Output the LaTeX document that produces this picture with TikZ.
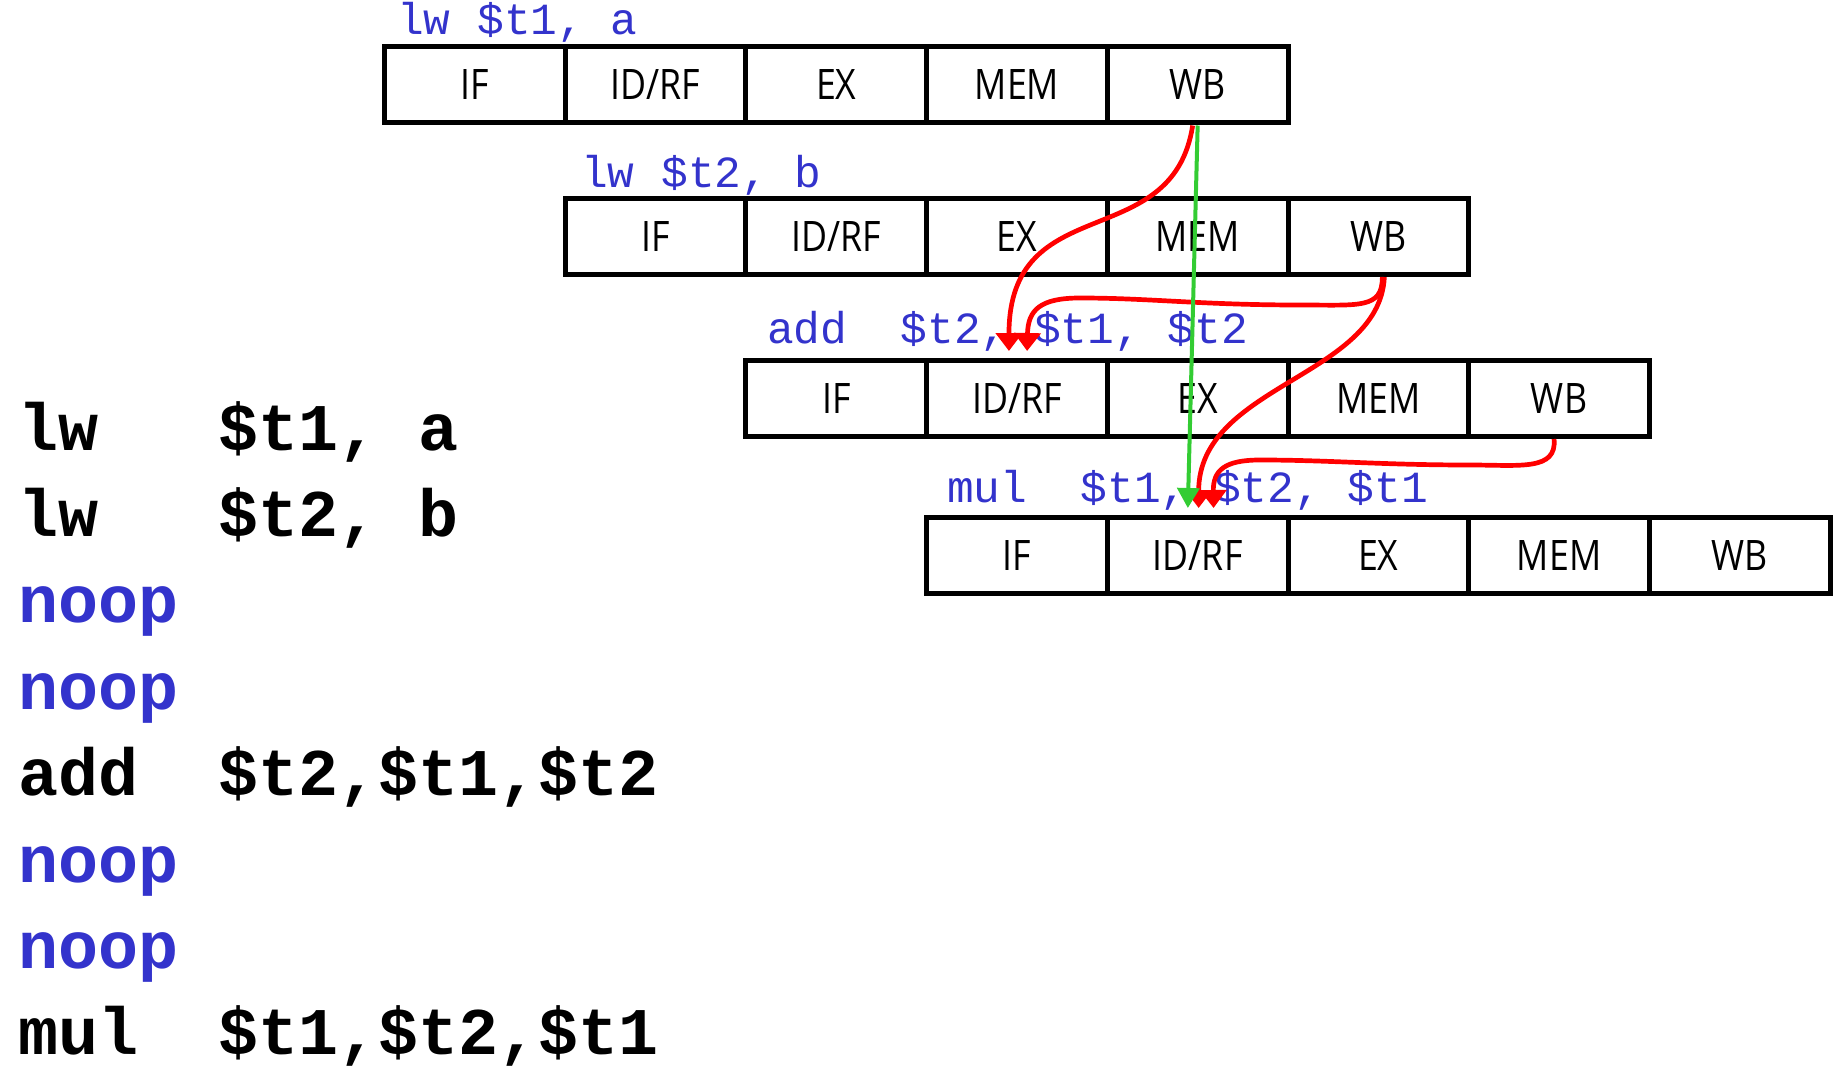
\documentclass[tikz,border=0pt]{standalone}
\usepackage{fontspec}
\usetikzlibrary{arrows.meta}
\newfontfamily\monofont{Liberation Mono}
\newfontfamily\stagefont[FakeStretch=0.85]{Open Sans}
\definecolor{asmblue}{RGB}{51,51,204}
\definecolor{okgreen}{RGB}{51,204,51}
\begin{document}
\begin{tikzpicture}[x=1pt,y=-1pt,
    stage/.style = {draw, line width=5pt, minimum width=180.7pt, minimum height=76pt,
      inner sep=0pt, text height=30pt, text depth=0pt, font=\stagefont\fontsize{42}{46}\selectfont},
    instr/.style = {anchor=base west, inner sep=0pt, text=asmblue, font=\monofont\fontsize{44.5}{48}\selectfont},
    code/.style = {anchor=base west, inner sep=0pt, font=\monofont\bfseries\fontsize{66.7}{70}\selectfont},
    fwd/.style = {red, line width=4.7pt, -{Triangle[width=26pt,length=18pt]}, shorten >=7pt},
    bypass/.style = {okgreen, line width=4pt, -{Triangle[width=22pt,length=20pt]}, shorten >=7pt}]
  \useasboundingbox (0,0) rectangle (1838,1067);
  \foreach \r/\y in {1/85,2/236.5,3/398.5,4/555.5}
    \foreach \s [count=\k] in {IF,{ID/RF},EX,MEM,WB}
      \node[stage] (r\r-\k) at ({384.5+(\r-1)*180.7+(\k-0.5)*180.7},\y) {\s};
  \node[instr] (l1) at (397,35) {lw \$t1, a};
  \node[instr] (l2) at (581,187.5) {lw \$t2, b};
  \node[instr] (l3) at (767,343) {add~~\$t2, \$t1, \$t2};
  \node[instr] (l4) at (947,502) {mul~~\$t1, \$t2, \$t1};
  \foreach \t/\c [count=\i] in {{lw~~~\$t1,~a}/black,{lw~~~\$t2,~b}/black,noop/asmblue,noop/asmblue,
      {add~~\$t2,\$t1,\$t2}/black,noop/asmblue,noop/asmblue,{mul~~\$t1,\$t2,\$t1}/black}
    \node[code, text=\c] (c\i) at (18,{450+(\i-1)*86.4}) {\t};
  \draw[fwd] ([xshift=-5pt]r1-5.south) .. controls +(-20,130) and +(0,-170) .. ([xshift=-8pt]r3-2.north);
  \draw[fwd] ([xshift=4pt]r2-5.south) .. controls +(0,32) and +(60,0) .. (1300,305)
    .. controls (1200,305) and (1150,298) .. (1080,298) .. controls (1040,298) and (1028,310) .. ([xshift=10pt]r3-2.north);
  \draw[fwd] ([xshift=6pt]r2-5.south) .. controls +(-5,100) and +(0,-130) .. ([xshift=1pt]r4-2.north);
  \draw[fwd] ([xshift=-5pt]r3-5.south) .. controls +(3,32) and +(50,0) .. (1470,465)
    .. controls (1380,465) and (1330,460) .. (1260,460) .. controls (1225,460) and (1213,470) .. ([xshift=16pt]r4-2.north);
  \draw[bypass] (r1-5.south) -- ([xshift=-10pt]r4-2.north);
\end{tikzpicture}
\end{document}
